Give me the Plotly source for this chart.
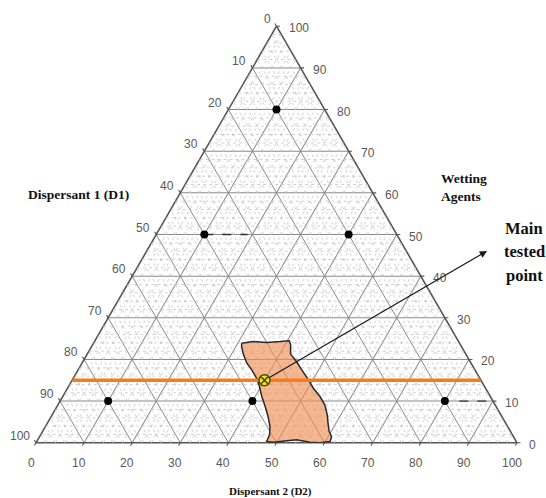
import math
import plotly.graph_objects as go

# ---------------- data ----------------
# components: W = Wetting Agents (top), D1 = Dispersant 1 (bottom-left), D2 = Dispersant 2 (bottom-right)
pts_w = [80, 50, 50, 10, 10, 10]
pts_d1 = [10, 40, 10, 80, 50, 10]
pts_d2 = [10, 10, 40, 10, 40, 80]

main_w = [15]
main_d1 = [45]
main_d2 = [40]

orange_w = [15, 15]
orange_d1 = [85, 0]
orange_d2 = [0, 85]

dash1_w = [50, 50]
dash1_d1 = [40, 31]
dash1_d2 = [10, 19]
dash2_w = [10, 10]
dash2_d1 = [7, 1]
dash2_d2 = [83, 89]

region_w = [23.9, 24.3, 24.1, 24.3, 24.5, 23.5, 21.5, 19.5, 17.5, 15.1, 13.1, 11.1, 9.1,
            6.7, 4.3, 2.7, 1.5, 0.3, 0.0, 0.1, 0.7, 0.5, 0.1, 0.3, 1.9, 3.9, 6.3, 8.7,
            11.1, 13.5, 15.5, 17.5, 19.1, 21.1, 23.1, 23.9]
region_d2 = [30.8, 33.0, 35.9, 38.6, 40.4, 41.2, 42.7, 44.4, 46.5, 49.1, 51.1, 53.5, 55.5,
             57.2, 58.6, 59.6, 60.7, 61.0, 59.0, 56.9, 53.8, 51.9, 49.3, 47.8, 47.6, 46.7,
             45.1, 43.3, 41.4, 39.7, 38.1, 36.1, 34.3, 32.6, 31.2, 30.8]
region_d1 = [45.3, 42.7, 40.0, 37.1, 35.1, 35.3, 36.8, 36.1, 36.0, 35.8, 35.8, 35.4, 35.4,
             36.1, 37.1, 37.7, 37.8, 38.7, 41.0, 43.0, 45.5, 47.6, 50.6, 51.9, 50.5, 49.4,
             48.6, 48.0, 47.5, 46.8, 46.4, 46.4, 46.6, 46.3, 45.7, 45.3]

major_ticks = [0, 10, 20, 30, 40, 50, 60, 70, 80, 90, 100]
tick_labels = ["0", "10", "20", "30", "40", "50", "60", "70", "80", "90", "100"]
minor_levels = [v for v in range(2, 100, 2) if v % 10]

# ---------------- geometry helpers ----------------
W_PX, H_PX = 546, 498
ML, MR, MT, MB = 36, 29, 26, 55
PW = W_PX - ML - MR
PH = H_PX - MT - MB
TRI_W = PW
TRI_H = TRI_W * math.sqrt(3) / 2
TRI_BOTTOM = MT + PH / 2 + TRI_H / 2


def tern_px(w, d1, d2):
    s = w + d1 + d2
    x = ML + TRI_W * (d2 + w / 2) / s
    y = TRI_BOTTOM - TRI_H * w / s
    return x, y


def px_to_paper(x, y):
    return (x - ML) / PW, (H_PX - MB - y) / PH


fig = go.Figure()

# minor grid (every 2 units)
ga, gb, gc = [], [], []
for v in minor_levels:
    ga += [v, v, None]; gb += [100 - v, 0, None]; gc += [0, 100 - v, None]
    ga += [0, 100 - v, None]; gb += [v, v, None]; gc += [100 - v, 0, None]
    ga += [0, 100 - v, None]; gb += [100 - v, 0, None]; gc += [v, v, None]
fig.add_trace(go.Scatterternary(a=ga, b=gb, c=gc, mode="lines",
                                line=dict(color="#c4c4c4", width=0.8, dash="dot"),
                                hoverinfo="skip"))

# tested region
fig.add_trace(go.Scatterternary(a=region_w, b=region_d1, c=region_d2, mode="lines",
                                fill="toself", fillcolor="rgba(240,143,83,0.64)",
                                line=dict(color="#2a2a2a", width=1.5)))

# orange line
fig.add_trace(go.Scatterternary(a=orange_w, b=orange_d1, c=orange_d2, mode="lines",
                                line=dict(color="#F57C1F", width=3.5)))

# small dashed marks
for aw, bd, cd in [(dash1_w, dash1_d1, dash1_d2), (dash2_w, dash2_d1, dash2_d2)]:
    fig.add_trace(go.Scatterternary(a=aw, b=bd, c=cd, mode="lines",
                                    line=dict(color="#333333", width=1.3, dash="dash")))

# design points
fig.add_trace(go.Scatterternary(a=pts_w, b=pts_d1, c=pts_d2, mode="markers",
                                marker=dict(color="black", size=8)))

# main tested point
fig.add_trace(go.Scatterternary(a=main_w, b=main_d1, c=main_d2, mode="markers",
                                marker=dict(symbol="circle-x", size=11, color="#F2E41C",
                                            line=dict(color="#4d4a00", width=1.5))))


def axis():
    return dict(
        title=dict(text=""),
        tickmode="array", tickvals=major_ticks,
        ticks="", showticklabels=False,
        linecolor="#555555", linewidth=1.6,
        showgrid=True, gridcolor="#8a8a8a", gridwidth=1,
        layer="below traces",
    )


fig.update_layout(
    width=W_PX, height=H_PX,
    margin=dict(l=ML, r=MR, t=MT, b=MB),
    paper_bgcolor="white",
    showlegend=False,
    ternary=dict(
        sum=100,
        bgcolor="white",
        domain=dict(x=[0, 1], y=[0, 1]),
        aaxis=axis(),
        baxis=axis(),
        caxis=axis(),
    ),
)

tick_font = dict(family="Liberation Sans, Arial, sans-serif", size=12, color="#585858")


def tick_and_label(x, y, dx, dy, lx, ly, text, xanchor):
    px, py = px_to_paper(x, y)
    fig.add_annotation(x=px, y=py, xref="paper", yref="paper", text="",
                       showarrow=True, arrowhead=0, arrowwidth=1.1, arrowcolor="#555555",
                       ax=dx, ay=dy, standoff=0, startstandoff=0)
    qx, qy = px_to_paper(x + lx, y + ly)
    fig.add_annotation(x=qx, y=qy, xref="paper", yref="paper", text=text,
                       showarrow=False, xanchor=xanchor, yanchor="middle",
                       font=tick_font)


for v, t in zip(major_ticks, tick_labels):
    # left edge: Dispersant 1
    x, y = tern_px(100 - v, v, 0)
    tick_and_label(x, y, -2.5, -4.3, -4, -7, t, "right")
    # right edge: Wetting Agents
    x, y = tern_px(v, 0, 100 - v)
    tick_and_label(x, y, 5, 0, 10, 2, t, "left")
    # bottom edge: Dispersant 2
    x, y = tern_px(0, 100 - v, v)
    tick_and_label(x, y, -2.5, 4.3, -5, 20, t, "center")

serif = "Liberation Serif, Times New Roman, serif"

lbl = [
    ("<b>Dispersant 1 (D1)</b>", 78, 194, "center", 13.5),
    ("<b>Wetting<br>Agents</b>", 439, 187, "left", 13.5),
    ("<b>Dispersant 2 (D2)</b>", 270, 491, "center", 11),
    ("<b>Main</b>", 524, 228, "center", 16.5),
    ("<b>tested</b>", 524, 251.5, "center", 16.5),
    ("<b>point</b>", 524, 275, "center", 16.5),
]
for text, x, y, xa, size in lbl:
    px, py = px_to_paper(x, y)
    fig.add_annotation(text=text, x=px, y=py, xref="paper", yref="paper",
                       xanchor=xa, yanchor="middle", align=xa, showarrow=False,
                       font=dict(family=serif, size=size, color="#111111"))

# arrow from main tested point
tip_x, tip_y = 487, 251
tx, ty = tern_px(main_w[0], main_d1[0], main_d2[0])
px, py = px_to_paper(tip_x, tip_y)
fig.add_annotation(x=px, y=py, xref="paper", yref="paper", text="",
                   showarrow=True, arrowhead=2, arrowsize=1.2, arrowwidth=1.2,
                   arrowcolor="#1a1a1a", ax=tx - tip_x, ay=ty - tip_y,
                   standoff=0, startstandoff=4)

fig.write_html("out.html")
